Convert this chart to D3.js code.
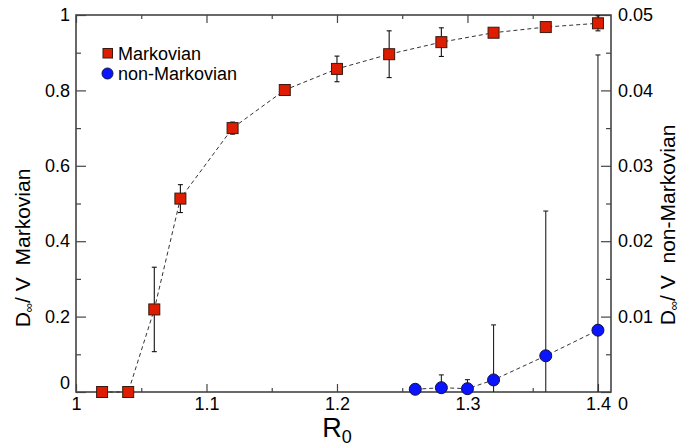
<!DOCTYPE html>
<html>
<head>
<meta charset="utf-8">
<script src="https://cdn.jsdelivr.net/npm/d3@7"></script>
<style>
  html, body { margin: 0; padding: 0; background: #fff; }
  svg { display: block; font-family: "Liberation Sans", Arial, Helvetica, sans-serif; }
  text { white-space: pre; }
</style>
</head>
<body>
<svg id="chart" width="682" height="447"></svg>
<script>
// R0 values sampled for each model
const markovR0 = [1.02, 1.04, 1.06, 1.08, 1.12, 1.16, 1.20, 1.24, 1.28, 1.32, 1.36, 1.40];
const markovD = [0, 0, 0.219, 0.513, 0.700, 0.801, 0.857, 0.896, 0.928, 0.953, 0.968, 0.978];
const markovErr = [0, 0, 0.112, 0.037, 0.016, 0.005, 0.034, 0.062, 0.038, 0.005, 0.005, 0.02];

const nonMarkovR0 = [1.26, 1.28, 1.30, 1.32, 1.36, 1.40];
const nonMarkovD = [0.00036, 0.00057, 0.00044, 0.0016, 0.0048, 0.0082];
const nonMarkovErr = [0, 0.0017, 0.0012, 0.0073, 0.0192, 0.0365];

const xTicks = [1, 1.1, 1.2, 1.3, 1.4];
const xMinorTicks = [1.05, 1.15, 1.25, 1.35];
const yLeftTicks = [0, 0.2, 0.4, 0.6, 0.8, 1];
const yLeftMinor = [0.1, 0.3, 0.5, 0.7, 0.9];
const yRightTicks = [0, 0.01, 0.02, 0.03, 0.04, 0.05];
const yRightMinor = [0.005, 0.015, 0.025, 0.035, 0.045];

const legendLabels = ["Markovian", "non-Markovian"];

const svg = d3.select("#chart");
const plotLeft = 76, plotRight = 611, plotTop = 15, plotBottom = 392;

const x = d3.scaleLinear().domain([1, 1.41]).range([plotLeft, plotRight]);
const yL = d3.scaleLinear().domain([0, 1]).range([plotBottom, plotTop]);
const yR = d3.scaleLinear().domain([0, 0.05]).range([plotBottom, plotTop]);

const fmt = d => String(+(+d).toFixed(3));
const frameColor = "#444";

function styleAxis(g) {
  g.select(".domain").remove();
  g.selectAll(".tick line").attr("stroke", frameColor).attr("stroke-width", 1.2);
  g.selectAll(".tick text").attr("fill", "#000").attr("font-size", 18)
    .attr("font-family", "'Liberation Sans', Arial, sans-serif");
}

// bottom axis (ticks point inward)
svg.append("g").attr("transform", `translate(0,${plotBottom})`)
  .call(d3.axisBottom(x).tickValues(xTicks).tickFormat(fmt).tickSize(-8).tickPadding(5))
  .call(styleAxis);
svg.append("g").attr("transform", `translate(0,${plotBottom})`)
  .call(d3.axisBottom(x).tickValues(xMinorTicks).tickFormat("").tickSize(-4))
  .call(styleAxis);
// top mirror ticks
svg.append("g").attr("transform", `translate(0,${plotTop})`)
  .call(d3.axisTop(x).tickValues(xTicks).tickFormat("").tickSize(-8))
  .call(styleAxis);
svg.append("g").attr("transform", `translate(0,${plotTop})`)
  .call(d3.axisTop(x).tickValues(xMinorTicks).tickFormat("").tickSize(-4))
  .call(styleAxis);

// left axis
const gl = svg.append("g").attr("transform", `translate(${plotLeft},0)`)
  .call(d3.axisLeft(yL).tickValues(yLeftTicks).tickFormat(fmt).tickSize(-10).tickPadding(6))
  .call(styleAxis);
gl.selectAll(".tick text").filter(d => d === 0).attr("dy", "-0.18em");
svg.append("g").attr("transform", `translate(${plotLeft},0)`)
  .call(d3.axisLeft(yL).tickValues(yLeftMinor).tickFormat("").tickSize(-5))
  .call(styleAxis);

// right axis
const gr = svg.append("g").attr("transform", `translate(${plotRight},0)`)
  .call(d3.axisRight(yR).tickValues(yRightTicks).tickFormat(fmt).tickSize(-10).tickPadding(7))
  .call(styleAxis);
gr.selectAll(".tick text").filter(d => d === 0).attr("dy", "0.95em");
svg.append("g").attr("transform", `translate(${plotRight},0)`)
  .call(d3.axisRight(yR).tickValues(yRightMinor).tickFormat("").tickSize(-5))
  .call(styleAxis);

// frame
svg.append("rect")
  .attr("x", plotLeft).attr("y", plotTop)
  .attr("width", plotRight - plotLeft).attr("height", plotBottom - plotTop)
  .attr("fill", "none").attr("stroke", frameColor).attr("stroke-width", 1.6);

const markov = markovR0.map((r, i) => ({ r, v: markovD[i], e: markovErr[i] }));
const nonMarkov = nonMarkovR0.map((r, i) => ({ r, v: nonMarkovD[i], e: nonMarkovErr[i] }));

const plot = svg.append("g");

// dashed connecting lines
const lineM = d3.line().x(d => x(d.r)).y(d => yL(d.v));
const lineN = d3.line().x(d => x(d.r)).y(d => yR(d.v));
plot.append("path").attr("d", lineM(markov)).attr("fill", "none")
  .attr("stroke", "#333").attr("stroke-width", 1).attr("stroke-dasharray", "4,3");
plot.append("path").attr("d", lineN(nonMarkov)).attr("fill", "none")
  .attr("stroke", "#333").attr("stroke-width", 1).attr("stroke-dasharray", "4,3");

// error bars, clipped to the axis ranges
function errorBars(data, y, dom, color) {
  const g = plot.append("g").attr("stroke", color).attr("stroke-width", 1.1);
  data.filter(d => d.e > 0).forEach(d => {
    const hi = Math.min(d.v + d.e, dom[1]);
    const lo = Math.max(d.v - d.e, dom[0]);
    const cx = x(d.r);
    g.append("line").attr("x1", cx).attr("x2", cx).attr("y1", y(lo)).attr("y2", y(hi));
    g.append("line").attr("x1", cx - 2.5).attr("x2", cx + 2.5).attr("y1", y(hi)).attr("y2", y(hi));
    if (d.v - d.e > dom[0]) {
      g.append("line").attr("x1", cx - 2.5).attr("x2", cx + 2.5).attr("y1", y(lo)).attr("y2", y(lo));
    }
  });
}
errorBars(markov, yL, yL.domain(), "#111");
errorBars(nonMarkov, yR, yR.domain(), "#222");

const red = "#dd1c00", blue = "#0a14ff";
const sq = 11;

plot.append("g").selectAll("rect").data(markov).join("rect")
  .attr("x", d => x(d.r) - sq / 2).attr("y", d => yL(d.v) - sq / 2)
  .attr("width", sq).attr("height", sq)
  .attr("fill", red).attr("stroke", "#3a1a10").attr("stroke-width", 1);

plot.append("g").selectAll("circle").data(nonMarkov).join("circle")
  .attr("cx", d => x(d.r)).attr("cy", d => yR(d.v)).attr("r", 6)
  .attr("fill", blue).attr("stroke", "#10104a").attr("stroke-width", 1);

// legend
const lg = svg.append("g");
lg.append("rect").attr("x", 103).attr("y", 48.5).attr("width", 9.5).attr("height", 9.5)
  .attr("fill", red).attr("stroke", "#3a1a10").attr("stroke-width", 1);
lg.append("circle").attr("cx", 107.5).attr("cy", 73.5).attr("r", 5.5)
  .attr("fill", blue).attr("stroke", "#10104a").attr("stroke-width", 1);
lg.selectAll("text").data(legendLabels).join("text")
  .attr("x", 118).attr("y", (d, i) => 53.5 + i * 20).attr("dy", "0.36em")
  .attr("font-size", 18).attr("fill", "#000").text(d => d);

// axis titles
const xt = svg.append("text").attr("x", 337).attr("y", 437)
  .attr("text-anchor", "middle").attr("font-size", 27).attr("fill", "#000");
xt.append("tspan").text("R");
xt.append("tspan").attr("font-size", 18).attr("dy", 6).text("0");

function yTitle(cx, cy, label) {
  const t = svg.append("text")
    .attr("transform", `translate(${cx},${cy}) rotate(-90)`)
    .attr("text-anchor", "middle").attr("font-size", 21).attr("fill", "#000");
  t.append("tspan").text("D");
  t.append("tspan").attr("font-size", 13).attr("dy", 3).text("∞");
  t.append("tspan").attr("dy", -3).text("/ V  " + label);
}
yTitle(30, 248, "Markovian");
yTitle(675, 225, "non-Markovian");
</script>
</body>
</html>
